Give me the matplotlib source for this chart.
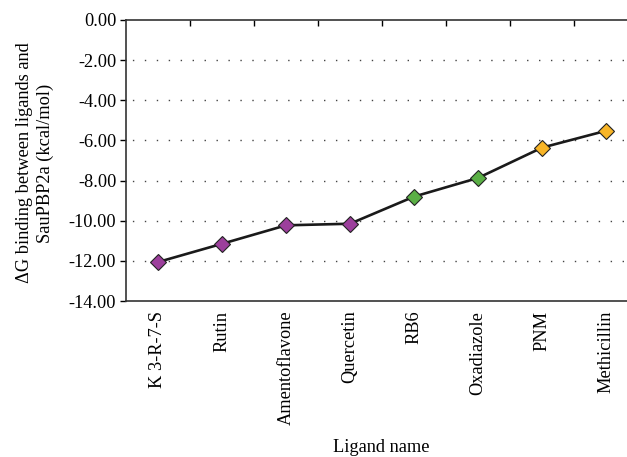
import matplotlib
matplotlib.use('Agg')
from matplotlib import pyplot as plt

plt.rcParams['font.family'] = ['Liberation Serif', 'DejaVu Serif']

ligands = ['K 3-R-7-S', 'Rutin', 'Amentoflavone', 'Quercetin', 'RB6',
           'Oxadiazole', 'PNM', 'Methicillin']
dg = [-12.06, -11.15, -10.23, -10.15, -8.80, -7.87, -6.36, -5.52]
colors = ['#9c3f9c', '#9c3f9c', '#9c3f9c', '#9c3f9c', '#5aaf45',
          '#5aaf45', '#f8b527', '#f8b527']
yticks = [0, -2, -4, -6, -8, -10, -12, -14]

fs = 13.2
fig = plt.figure(figsize=(6.27, 4.57), dpi=100)
ax = fig.add_axes([126/627, 156/457, 512/627, 281/457])

x = list(range(len(ligands)))
ax.plot(x, dg, color='#1a1a1a', linewidth=1.9, zorder=2)
for xi, yi, c in zip(x, dg, colors):
    ax.plot(xi, yi, marker='D', markersize=8, markerfacecolor=c,
            markeredgecolor='#222222', markeredgewidth=0.8, zorder=3)

ax.set_xlim(-0.5, len(ligands) - 0.5)
ax.set_ylim(-14, 0)
ax.set_yticks(yticks)
ax.set_yticklabels(['%.2f' % v for v in yticks], fontsize=fs)
for v in yticks[1:-1]:
    ax.axhline(v, color='#444444', linestyle=(4, (1, 7.6)), linewidth=1.0, zorder=1)

ax.set_xticks(x)
ax.set_xticklabels(ligands, rotation=90, fontsize=fs, va='top')
ax.set_xticks([i + 0.5 for i in x[:-1]], minor=True)
ax.tick_params(axis='x', which='major', length=0, pad=7)
ax.tick_params(axis='x', which='minor', top=True, bottom=False, direction='in', length=4, width=1)
ax.tick_params(axis='y', direction='out', length=4, width=1, pad=3)

ax.spines['right'].set_visible(False)
for s in ['left', 'top', 'bottom']:
    ax.spines[s].set_linewidth(1.2)
    ax.spines[s].set_color('#333333')

fig.text(35/627, (457 - 163)/457, 'ΔG binding between ligands and\nSauPBP2a (kcal/mol)',
         fontsize=fs, rotation=90, ha='center', va='center', multialignment='center',
         linespacing=1.3)
fig.text(381/627, (457 - 447)/457, 'Ligand name', fontsize=fs, ha='center', va='center')

fig.savefig('out.png', dpi=100)
